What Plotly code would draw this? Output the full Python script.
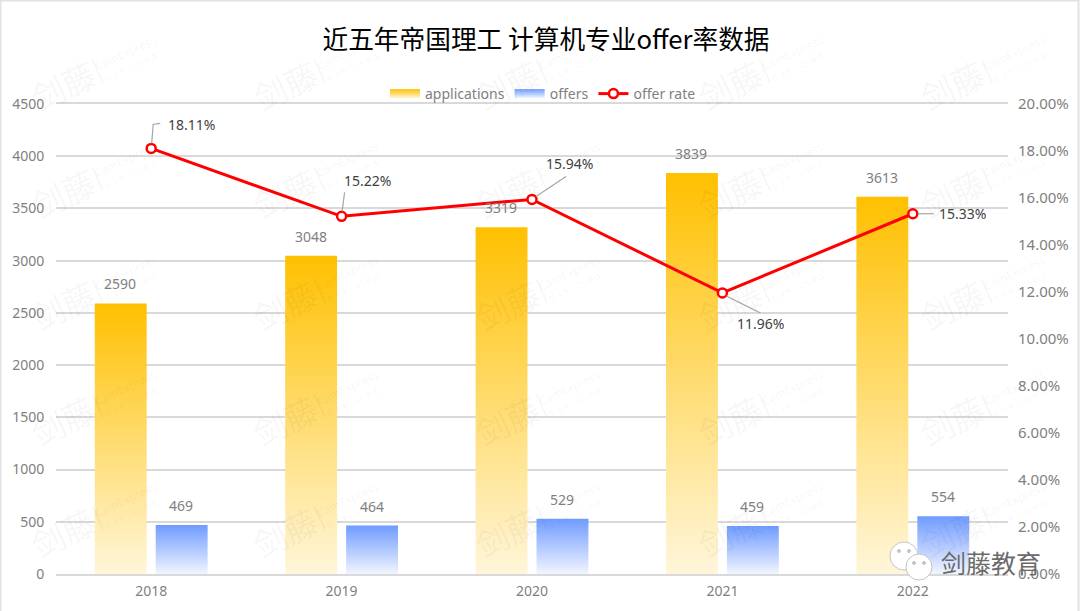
import plotly.graph_objects as go

years = ['2018', '2019', '2020', '2021', '2022']
applications = [2590, 3048, 3319, 3839, 3613]
offers = [469, 464, 529, 459, 554]
offer_rate = [0.1811, 0.1522, 0.1594, 0.1196, 0.1533]

W, H = 1080, 611
L, R, T, B = 56, 72, 104, 37
FONT = 'Noto Sans, Noto Sans CJK SC, sans-serif'
GREY = '#7f7f7f'
GRID = '#d9d9d9'

xpos = list(range(len(years)))


# page pixels -> paper fractions, for the decoration only
def px(x):
    return (x - L) / (W - L - R)


def py(y):
    return 1 - (y - T) / (H - T - B)


def deco(text, x, y, size, color, family, angle=0):
    return dict(text=text, xref='paper', yref='paper', x=px(x), y=py(y),
                xanchor='center', yanchor='middle', showarrow=False, textangle=angle,
                font=dict(size=size, color=color, family=family))


def dot(cx, cy, r, fill, line):
    return dict(type='circle', xref='paper', yref='paper',
                x0=px(cx - r), x1=px(cx + r), y0=py(cy - r), y1=py(cy + r),
                fillcolor=fill, line=dict(color=line, width=1))


fig = go.Figure()
fig.add_trace(go.Bar(x=xpos, y=applications, name='applications',
                     marker=dict(color='#FFC000', line_width=0)))
fig.add_trace(go.Bar(x=xpos, y=offers, name='offers',
                     marker=dict(color='#6F9BFF', line_width=0)))
fig.add_trace(go.Scatter(x=xpos, y=offer_rate, name='offer rate', yaxis='y2',
                         mode='lines+markers',
                         line=dict(color='#FF0000', width=3),
                         marker=dict(size=9, color='white',
                                     line=dict(color='#FF0000', width=2.5))))

annotations = []
shapes = []

# watermark, repeated over the whole picture
WM = 'rgba(0,0,0,0.05)'
for cx in [63, 285, 507, 730, 952]:
    for cy in [85, 193, 305, 420, 532]:
        annotations.append(deco('剑藤', cx, cy, 33, WM, 'Noto Sans CJK SC', -25))
        annotations.append(deco('|', cx + 33, cy - 17, 26, WM, FONT, -25))
        annotations.append(deco('CamExpress', cx + 62, cy - 33, 11.5, WM, FONT, -25))
        annotations.append(deco('专注牛剑G5申请', cx + 67, cy - 18, 8, WM, 'Noto Sans CJK SC', -25))

# bar value labels
for i, a, o in zip(xpos, applications, offers):
    annotations.append(dict(text=str(a), x=i, y=a, xref='x', yref='y', showarrow=False,
                            xshift=-31, yshift=8, xanchor='center', yanchor='bottom',
                            font=dict(size=14, color=GREY, family=FONT)))
    annotations.append(dict(text=str(o), x=i, y=o, xref='x', yref='y', showarrow=False,
                            xshift=30, yshift=8, xanchor='center', yanchor='bottom',
                            font=dict(size=14, color=GREY, family=FONT)))

# rate labels: label offset and leader line, in pixels from the point
rate_labels = [
    (40, 24, 'M 0.5 5 L 2 24 L 9 25'),
    (26, 36, 'M 0.5 5 L 3 24'),
    (37, 36, 'M 4 3 L 34 23'),
    (38, -31, 'M 4 -3 L 38 -20'),
    (50, 0, 'M 5 0 L 21 0'),
]
for i, r, (dx, dy, path) in zip(xpos, offer_rate, rate_labels):
    annotations.append(dict(text='{:.2%}'.format(r), x=i, y=r, xref='x', yref='y2',
                            showarrow=False, xshift=dx, yshift=dy,
                            xanchor='center', yanchor='middle',
                            font=dict(size=14, color='#404040', family=FONT)))
    shapes.append(dict(type='path', path=path, xref='x', yref='y2',
                       xsizemode='pixel', ysizemode='pixel', xanchor=i, yanchor=r,
                       line=dict(color='#a6a6a6', width=1.2)))

# picture frame
shapes.append(dict(type='rect', xref='paper', yref='paper', x0=px(0.5), x1=px(1078.5),
                   y0=py(0.5), y1=py(640), line=dict(color='#e2e2e2', width=2),
                   layer='below'))

# wechat mark, bottom right
shapes.append(dot(904, 556, 14, 'white', '#c4c4c4'))
shapes.append(dot(899, 551, 1.5, '#c4c4c4', '#c4c4c4'))
shapes.append(dot(909, 551, 1.5, '#c4c4c4', '#c4c4c4'))
shapes.append(dot(919, 567, 13, 'white', '#c4c4c4'))
shapes.append(dot(914, 563, 1.5, '#c4c4c4', '#c4c4c4'))
shapes.append(dot(924, 563, 1.5, '#c4c4c4', '#c4c4c4'))
annotations.append(deco('剑藤教育', 991, 562, 25, '#6b6b6b', 'Noto Sans CJK SC'))

fig.update_layout(
    width=W, height=H,
    margin=dict(l=L, r=R, t=T, b=B, pad=0),
    paper_bgcolor='white', plot_bgcolor='white',
    font=dict(family=FONT, color=GREY, size=14),
    title=dict(text='近五年帝国理工 计算机专业offer率数据', x=546 / W, xanchor='center',
               y=1 - 40 / H, yanchor='middle',
               font=dict(size=25.7, color='#000000', family='Noto Sans CJK SC')),
    barmode='group', bargap=0.36, bargroupgap=0.148,
    legend=dict(orientation='h', x=px(543), xanchor='center', y=py(94), yanchor='middle',
                font=dict(size=14, color=GREY), itemclick=False, bgcolor='rgba(0,0,0,0)'),
    xaxis=dict(range=[-0.5, 4.5], tickvals=xpos, ticktext=years, showgrid=False, zeroline=False,
               automargin=False, ticks='outside', ticklen=3, tickcolor='rgba(0,0,0,0)',
               showline=True, mirror=True, linecolor=GRID, linewidth=1.5,
               tickfont=dict(size=14, color=GREY)),
    yaxis=dict(range=[0, 4500], dtick=500, gridcolor=GRID, gridwidth=1.5, zeroline=False,
               automargin=False, ticks='outside', ticklen=8, tickcolor='rgba(0,0,0,0)',
               tickfont=dict(size=14, color=GREY)),
    yaxis2=dict(range=[0, 0.2], dtick=0.02, tickformat='.2%', overlaying='y', side='right',
                automargin=False, ticks='outside', ticklen=6, tickcolor='rgba(0,0,0,0)',
                showgrid=False, zeroline=False, tickfont=dict(size=15, color=GREY)),
    annotations=annotations,
    shapes=shapes,
)

# plotly bars have no gradient fill, so add it to the svg after drawing
post_script = """
document.body.style.margin = '0';
var gd = document.getElementById('{plot_id}');
var NS = 'http://www.w3.org/2000/svg';
function addGrad(defs, id, top, bottom) {
  if (document.getElementById(id)) return;
  var g = document.createElementNS(NS, 'linearGradient');
  g.setAttribute('id', id);
  g.setAttribute('x1', '0'); g.setAttribute('y1', '0');
  g.setAttribute('x2', '0'); g.setAttribute('y2', '1');
  [[0, top], [1, bottom]].forEach(function (s) {
    var st = document.createElementNS(NS, 'stop');
    st.setAttribute('offset', s[0]);
    st.setAttribute('stop-color', s[1]);
    g.appendChild(st);
  });
  defs.appendChild(g);
}
function applyGrad() {
  var defs = gd.querySelector('svg.main-svg defs');
  if (!defs) return;
  addGrad(defs, 'barGrad0', '#FFC000', '#FFF6DA');
  addGrad(defs, 'barGrad1', '#6F9BFF', '#F1F5FF');
  gd.querySelectorAll('.barlayer .trace.bars').forEach(function (tr, i) {
    tr.querySelectorAll('.point path').forEach(function (p) {
      p.style.fill = 'url(#barGrad' + i + ')';
    });
  });
  gd.querySelectorAll('.legend .traces').forEach(function (t, i) {
    if (i > 1) return;
    var p = t.querySelector('.legendpoints path');
    if (!p) return;
    p.setAttribute('d', 'M15,4.5H-15V-4.5H15Z');
    p.style.fill = 'url(#barGrad' + i + ')';
  });
}
applyGrad();
gd.on('plotly_afterplot', applyGrad);
setTimeout(applyGrad, 200);
"""

fig.write_html('out.html', post_script=post_script, config=dict(displayModeBar=False))
